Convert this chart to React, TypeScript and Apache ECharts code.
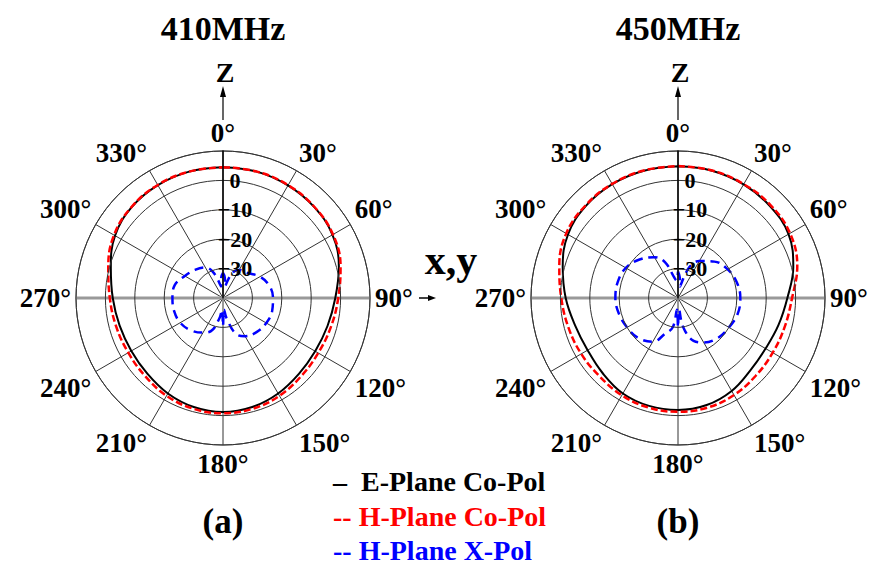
import React, { useEffect, useRef } from "react";
import * as echarts from "echarts";

// ---------- data (dB) ----------
const CO_ANGLES = [0, 15, 30, 45, 60, 75, 90, 105, 120, 135, 150, 165, 180, 195, 210, 225, 240, 255, 270, 285, 300, 315, 330, 345, 360];
const X_ANGLES = [0, 5, 10, 20, 30, 45, 60, 75, 90, 105, 120, 135, 150, 160, 170, 175, 180, 185, 190, 200, 210, 225, 240, 255, 270, 285, 300, 315, 330, 340, 350, 355, 360];

const E_410 = [4.5, 4.5, 4.2, 3.8, 3.0, 0.8, -1.8, -3.2, -3.8, -3.5, -2.5, -1.6, -1.2, -1.6, -2.5, -3.6, -4.0, -3.6, -2.5, -0.5, 2.4, 3.8, 4.3, 4.5, 4.5];
const H_410 = [4.5, 4.5, 4.3, 3.9, 3.2, 1.4, -0.8, -2.0, -2.6, -2.4, -1.6, -1.0, -0.8, -1.0, -1.6, -2.5, -2.8, -2.4, -1.5, 0.4, 2.8, 3.9, 4.4, 4.5, 4.5];
const X_410 = [-31.5, -33, -36, -31, -29, -28, -25.5, -23.7, -23, -22.7, -23, -23.7, -25, -27, -33, -36, -30.5, -36, -33, -28, -26.4, -24.5, -23.2, -22.8, -22.8, -23, -25, -26.5, -28, -31, -36, -33, -31.5];

const E_450 = [4.8, 4.8, 4.6, 4.2, 3.4, 0.6, -2.8, -4.6, -5.6, -5.2, -3.5, -2.3, -1.9, -2.0, -2.5, -3.8, -4.5, -3.8, -1.8, 0.6, 3.2, 4.3, 4.7, 4.8, 4.8];
const H_450 = [4.9, 4.9, 4.7, 4.6, 4.0, 2.0, -1.2, -2.4, -2.8, -2.6, -1.9, -1.4, -1.3, -1.4, -1.8, -2.3, -2.0, -1.4, -0.3, 1.8, 3.9, 4.5, 4.8, 4.9, 4.9];
const X_450 = [-31, -33, -36, -29, -25.5, -22.5, -20.5, -19.3, -18.8, -19, -20, -20.8, -22.5, -24.5, -30, -36, -30, -36, -30, -27, -22.8, -20.8, -20, -19.2, -18.7, -18.8, -19.5, -21.5, -24, -27, -33, -34, -31];

const TITLES = ["410MHz", "450MHz"];
const PANEL_LABELS = ["(a)", "(b)"];
const SERIES_NAMES = ["E-Plane Co-Pol", "H-Plane Co-Pol", "H-Plane X-Pol"];
const LEGEND_PREFIX = ["\u2013\u00a0\u00a0", "--\u00a0", "--\u00a0"];
const R_MIN = -40;
const R_MAX = 10;
const R_STEP = 10;
const A_STEP = 30;

// ---------- layout / style ----------
const FONT = "Liberation Serif";
const CENTERS = [223, 678];
const CY = 298;
const RADIUS = 147;
const COLORS = ["#000000", "#ff0000", "#0000ff"];
const LEGEND_TOPS = [467, 502, 536];

const pairs = (vals: number[], angles: number[]) => vals.map((v, i) => [v, angles[i]]);

export default function App() {
  const ref = useRef<HTMLDivElement>(null);

  useEffect(() => {
    if (!ref.current) return;
    const chart = echarts.init(ref.current, undefined, { renderer: "svg" });

    const panels = [
      { e: E_410, h: H_410, x: X_410 },
      { e: E_450, h: H_450, x: X_450 },
    ];

    const polar = CENTERS.map((cx) => ({ center: [cx, CY], radius: RADIUS }));

    const angleAxis = CENTERS.map((_, i) => ({
      polarIndex: i,
      type: "value",
      min: 0,
      max: 360,
      interval: A_STEP,
      startAngle: 90,
      clockwise: true,
      axisLine: { show: true, lineStyle: { color: "#444", width: 1 } },
      axisTick: { show: false },
      splitLine: { show: true, lineStyle: { color: "#333", width: 1 } },
      axisLabel: {
        margin: 5,
        color: "#000",
        fontFamily: FONT,
        fontWeight: "bold",
        fontSize: 27,
        formatter: (v: number) => (v >= 360 ? "" : v + "°"),
      },
    }));

    const radiusAxis = CENTERS.map((_, i) => ({
      polarIndex: i,
      type: "value",
      min: R_MIN,
      max: R_MAX,
      interval: R_STEP,
      z: 5,
      axisLine: { show: true, lineStyle: { color: "#000", width: 1.5 } },
      axisTick: { show: false },
      splitLine: { show: true, lineStyle: { color: "#333", width: 1 } },
      axisLabel: {
        margin: -12,
        align: "center",
        verticalAlign: "middle",
        color: "#000",
        fontFamily: FONT,
        fontWeight: "bold",
        fontSize: 22,
        formatter: (v: number) =>
          v >= R_MAX || v <= R_MIN ? "" : v < 0 ? "\u2212" + Math.abs(v) : String(v),
      },
    }));

    const series: any[] = [];
    panels.forEach((p, i) => {
      series.push({
        name: SERIES_NAMES[0],
        type: "line",
        coordinateSystem: "polar",
        polarIndex: i,
        smooth: 0.4,
        symbol: "none",
        z: 3,
        lineStyle: { color: COLORS[0], width: 2 },
        itemStyle: { color: COLORS[0] },
        data: pairs(p.e, CO_ANGLES),
      });
      series.push({
        name: SERIES_NAMES[1],
        type: "line",
        coordinateSystem: "polar",
        polarIndex: i,
        smooth: 0.4,
        symbol: "none",
        z: 4,
        lineStyle: { color: COLORS[1], width: 2.5, type: [7, 3] },
        itemStyle: { color: COLORS[1] },
        data: pairs(p.h, CO_ANGLES),
      });
      series.push({
        name: SERIES_NAMES[2],
        type: "line",
        coordinateSystem: "polar",
        polarIndex: i,
        smooth: 0.4,
        symbol: "none",
        z: 4,
        lineStyle: { color: COLORS[2], width: 2.5, type: [9, 6] },
        itemStyle: { color: COLORS[2] },
        data: pairs(p.x, X_ANGLES),
      });
    });

    const textStyle = (text: string, size: number) => ({
      text,
      fontFamily: FONT,
      fontWeight: "bold",
      fontSize: size,
      fill: "#000",
      align: "center",
      verticalAlign: "middle",
    });

    const graphic: any[] = [];
    CENTERS.forEach((cx, i) => {
      graphic.push({
        type: "line",
        z: 1,
        shape: { x1: cx - RADIUS, y1: CY, x2: cx + RADIUS, y2: CY },
        style: { stroke: "#999", lineWidth: 3 },
      });
      graphic.push({
        type: "line",
        shape: { x1: cx, y1: 120, x2: cx, y2: 94 },
        style: { stroke: "#000", lineWidth: 1.2 },
      });
      graphic.push({
        type: "polygon",
        shape: { points: [[cx, 86], [cx - 3, 97], [cx + 3, 97]] },
        style: { fill: "#000" },
      });
      graphic.push({ type: "text", x: cx + 2, y: 72, style: textStyle("Z", 28) });
      graphic.push({ type: "text", x: cx, y: 28, style: textStyle(TITLES[i], 34) });
      graphic.push({ type: "text", x: cx, y: 521, style: textStyle(PANEL_LABELS[i], 35) });
    });
    graphic.push({
      type: "line",
      shape: { x1: 419, y1: CY, x2: 429, y2: CY },
      style: { stroke: "#000", lineWidth: 1.5 },
    });
    graphic.push({
      type: "polygon",
      shape: { points: [[436, CY], [428, CY - 3], [428, CY + 3]] },
      style: { fill: "#000" },
    });
    graphic.push({ type: "text", x: 451, y: 260, style: textStyle("x,y", 42) });

    const legend = SERIES_NAMES.map((n, k) => ({
      orient: "vertical",
      left: 327,
      top: LEGEND_TOPS[k],
      padding: 0,
      itemWidth: 0,
      itemHeight: 0,
      selectedMode: false,
      data: [{ name: n, textStyle: { color: COLORS[k] } }],
      formatter: (name: string) => LEGEND_PREFIX[SERIES_NAMES.indexOf(name)] + name,
      textStyle: { fontFamily: FONT, fontWeight: "bold", fontSize: 28 },
    }));

    chart.setOption({
      animation: false,
      backgroundColor: "#ffffff",
      polar,
      angleAxis,
      radiusAxis,
      series,
      graphic,
      legend,
    });

    return () => chart.dispose();
  }, []);

  return (
    <div
      ref={ref}
      style={{ position: "absolute", left: 0, top: 0, width: 875, height: 565, background: "#fff" }}
    />
  );
}
